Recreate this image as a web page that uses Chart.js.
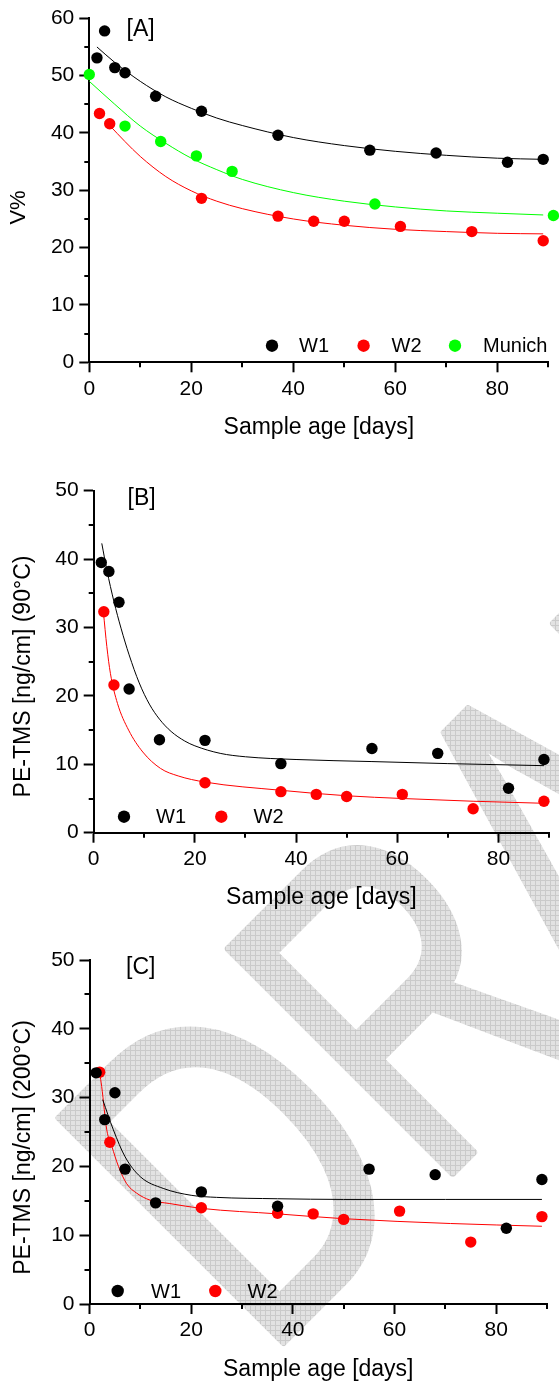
<!DOCTYPE html>
<html lang="en">
<head>
<meta charset="UTF-8">
<title>Sample age</title>
<script src="https://cdn.jsdelivr.net/npm/chart.js@4.4.1/dist/chart.umd.min.js"></script>
<style>
  body { margin: 0; background: #fff; }
  #page { position: relative; width: 559px; height: 1386px; overflow: hidden; }
  #page svg, #page canvas { position: absolute; left: 0; }
</style>
</head>
<body>
<div id="page">
  <svg id="mark" width="559" height="1386" style="top:0">
    <defs>
      <pattern id="hatch" width="5" height="5" patternUnits="userSpaceOnUse">
        <rect width="5" height="5" fill="#e2e2e2"/>
        <path d="M0 0.5H5M0.5 0V5" stroke="#cacaca" stroke-width="1"/>
      </pattern>
      <mask id="draftMask" maskUnits="userSpaceOnUse" x="0" y="0" width="559" height="1386">
        <text x="-31" y="320.5" font-family="Liberation Sans, Arial, sans-serif" font-size="460"
              fill="#fff" stroke="#fff" stroke-width="8" stroke-linejoin="round"
              transform="translate(52.7 1119.3) rotate(-45) scale(0.72 1)">DRAFT</text>
      </mask>
    </defs>
    <rect width="559" height="1386" fill="url(#hatch)" mask="url(#draftMask)"/>
  </svg>
  <canvas id="panelA" width="559" height="441" style="top:0"></canvas>
  <canvas id="panelB" width="559" height="470" style="top:441px"></canvas>
  <canvas id="panelC" width="559" height="475" style="top:911px"></canvas>
</div>

<script>
// ---- [A] V% ----
const a_w1_days = [1.5, 3, 5, 7, 13, 22, 37, 55, 68, 82, 89];
const a_w1_vals = [53.1, 57.8, 51.4, 50.5, 46.4, 43.8, 39.6, 37.0, 36.5, 34.9, 35.4];
const a_w2_days = [2, 4, 22, 37, 44, 50, 61, 75, 89];
const a_w2_vals = [43.4, 41.6, 28.6, 25.5, 24.6, 24.6, 23.7, 22.8, 21.2];
const a_mu_days = [0, 7, 14, 21, 28, 56, 91];
const a_mu_vals = [50.2, 41.2, 38.5, 36.0, 33.3, 27.6, 25.6];

// fitted decay curves
const a_w1_fit_days = [1.5, 5, 10, 15, 20, 25, 30, 40, 50, 60, 70, 80, 89];
const a_w1_fit_vals = [55.0, 52.3, 49.0, 46.3, 44.3, 42.6, 41.3, 39.2, 37.8, 36.8, 36.1, 35.6, 35.4];
const a_w2_fit_days = [4, 7, 10, 15, 20, 25, 30, 40, 50, 60, 70, 80, 89];
const a_w2_fit_vals = [41.3, 38.5, 35.9, 32.4, 29.9, 28.1, 26.8, 25.0, 23.9, 23.2, 22.8, 22.5, 22.4];
const a_mu_fit_days = [0, 5, 10, 15, 20, 25, 30, 40, 50, 60, 70, 80, 89];
const a_mu_fit_vals = [49.0, 45.0, 41.2, 38.2, 35.6, 33.6, 31.9, 29.6, 28.1, 27.1, 26.4, 26.0, 25.7];

// ---- [B] PE-TMS at 90°C ----
const b_w1_days = [1.5, 3, 5, 7, 13, 22, 37, 55, 68, 82, 89];
const b_w1_vals = [39.5, 38.2, 33.7, 21.0, 13.6, 13.5, 10.1, 12.3, 11.6, 6.5, 10.7];
const b_w2_days = [2, 4, 22, 37, 44, 50, 61, 75, 89];
const b_w2_vals = [32.3, 21.6, 7.3, 6.0, 5.6, 5.3, 5.6, 3.5, 4.6];

const b_w1_fit_days = [1.6, 2.6, 4, 5.4, 7, 9, 11, 13, 15.3, 18, 20, 25, 30, 40, 55, 70, 89];
const b_w1_fit_vals = [42.3, 38.4, 33.8, 29.9, 26.0, 21.9, 18.8, 16.6, 14.8, 13.4, 12.7, 11.6, 11.1, 10.7, 10.4, 10.1, 9.8];
const b_w2_fit_days = [1.9, 2.6, 3.3, 4.7, 6.9, 9.7, 13.2, 16.7, 22, 37, 50, 61, 75, 89];
const b_w2_fit_vals = [32.4, 27.2, 23.3, 18.9, 15.0, 11.8, 9.4, 8.3, 7.4, 6.2, 5.4, 5.0, 4.6, 4.3];

// ---- [C] PE-TMS at 200°C ----
const c_w1_days = [1.3, 3, 5, 7, 13, 22, 37, 55, 68, 82, 89];
const c_w1_vals = [33.6, 26.8, 30.7, 19.6, 14.7, 16.3, 14.2, 19.6, 18.8, 11.0, 18.1];
const c_w2_days = [2, 4, 22, 37, 44, 50, 61, 75, 89];
const c_w2_vals = [33.7, 23.5, 14.0, 13.2, 13.1, 12.3, 13.5, 9.0, 12.7];

const c_w1_fit_days = [2.6, 4.7, 7, 10, 14.5, 20, 25, 37, 50, 70, 89];
const c_w1_fit_vals = [29.7, 25.3, 21.4, 18.5, 16.8, 15.8, 15.5, 15.3, 15.2, 15.2, 15.2];
const c_w2_fit_days = [2, 2.4, 3.4, 4.4, 5.7, 7.3, 9.3, 11.9, 15.8, 22, 37, 50, 71, 89];
const c_w2_fit_vals = [33.6, 31.6, 25.3, 22.9, 20.0, 17.5, 16.1, 15.1, 14.6, 13.9, 13.1, 12.4, 11.7, 11.3];

const ageTitle = 'Sample age [days]';

Chart.defaults.font.family = "'Liberation Sans', Arial, sans-serif";
Chart.defaults.color = '#000';

function pts(xs, ys) {
    return xs.map((x, i) => ({ x: x, y: ys[i] }));
}

function dots(label, xs, ys, color) {
    return {
        label: label, data: pts(xs, ys), showLine: false,
        pointRadius: 5.7, pointHoverRadius: 5.7, pointBorderWidth: 0,
        pointBackgroundColor: color, borderColor: color, clip: false
    };
}

function fit(label, xs, ys, color) {
    return {
        label: label, data: pts(xs, ys), showLine: true, pointRadius: 0,
        borderColor: color, borderWidth: 1, cubicInterpolationMode: 'monotone', fill: false
    };
}

// short minor ticks, panel tag, rotated y title and the inline legend
const decor = {
    id: 'decor',
    afterDraw(chart, args, o) {
        const { ctx, chartArea, scales } = chart;
        ctx.save();
        ctx.strokeStyle = '#000';
        ctx.lineWidth = 2;
        scales.x.ticks.forEach(t => {
            if (t.value % o.xMajor === 0) return;
            const px = Math.round(scales.x.getPixelForValue(t.value));
            ctx.beginPath();
            ctx.moveTo(px, chartArea.bottom);
            ctx.lineTo(px, chartArea.bottom + 5);
            ctx.stroke();
        });
        scales.y.ticks.forEach(t => {
            if (t.value % o.yMajor === 0) return;
            const py = Math.round(scales.y.getPixelForValue(t.value));
            ctx.beginPath();
            ctx.moveTo(chartArea.left, py);
            ctx.lineTo(chartArea.left - 5, py);
            ctx.stroke();
        });

        ctx.fillStyle = '#000';
        ctx.textBaseline = 'alphabetic';
        ctx.textAlign = 'left';
        ctx.font = "23px 'Liberation Sans', Arial, sans-serif";
        ctx.fillText(o.tag, o.tagX, o.tagY);

        ctx.save();
        ctx.translate(o.yTitleX, o.yTitleY);
        ctx.rotate(-Math.PI / 2);
        ctx.textAlign = 'center';
        ctx.font = o.yTitleSize + "px 'Liberation Sans', Arial, sans-serif";
        ctx.fillText(o.yTitle, 0, 0);
        ctx.restore();

        ctx.font = "20px 'Liberation Sans', Arial, sans-serif";
        ctx.textBaseline = 'middle';
        o.legend.forEach(item => {
            const ds = chart.data.datasets[item.ds];
            ctx.fillStyle = ds.pointBackgroundColor;
            ctx.beginPath();
            ctx.arc(item.dot, o.legendY, 6.2, 0, Math.PI * 2);
            ctx.fill();
            ctx.fillStyle = '#000';
            ctx.fillText(ds.label, item.text, o.legendY + 1);
        });
        ctx.restore();
    }
};

function makePanel(id, datasets, p) {
    new Chart(document.getElementById(id), {
        type: 'scatter',
        data: { datasets: datasets },
        options: {
            responsive: false,
            devicePixelRatio: 1,
            animation: false,
            events: [],
            layout: { padding: { top: p.top, right: p.right, left: 0, bottom: p.bottom } },
            plugins: {
                legend: { display: false },
                tooltip: { enabled: false },
                decor: p.decor
            },
            scales: {
                x: {
                    type: 'linear', min: 0, max: 90,
                    afterFit: s => { s.height = p.xHeight; },
                    border: { color: '#000', width: 2 },
                    grid: {
                        drawOnChartArea: false, tickLength: 10, tickWidth: 2,
                        tickColor: c => (c.tick && c.tick.value % 20 === 0) ? '#000' : 'rgba(0,0,0,0)'
                    },
                    ticks: {
                        stepSize: 10, autoSkip: false, maxRotation: 0, padding: 4,
                        font: { size: 21 },
                        callback: v => (v % 20 === 0 && v < 90) ? v : ''
                    },
                    title: {
                        display: true, text: ageTitle, font: { size: 23 },
                        padding: { top: 0, bottom: 0 }
                    }
                },
                y: {
                    type: 'linear', min: 0, max: p.yMax,
                    afterFit: s => { s.width = p.yWidth; },
                    border: { color: '#000', width: 2 },
                    grid: {
                        drawOnChartArea: false, tickLength: 10, tickWidth: 2,
                        tickColor: c => (c.tick && c.tick.value % 10 === 0) ? '#000' : 'rgba(0,0,0,0)'
                    },
                    ticks: {
                        stepSize: 5, autoSkip: false, padding: 5,
                        font: { size: 21 },
                        callback: v => (v % 10 === 0) ? v : ''
                    }
                }
            }
        },
        plugins: [decor]
    });
}

makePanel('panelA', [
    dots('W1', a_w1_days, a_w1_vals, '#000000'),
    dots('W2', a_w2_days, a_w2_vals, '#ff0000'),
    dots('Munich', a_mu_days, a_mu_vals, '#00ff00'),
    fit('W1 fit', a_w1_fit_days, a_w1_fit_vals, '#000000'),
    fit('W2 fit', a_w2_fit_days, a_w2_fit_vals, '#ff0000'),
    fit('Munich fit', a_mu_fit_days, a_mu_fit_vals, '#00ff00')
], {
    top: 18.3, right: 10.7, bottom: 0, xHeight: 78.7, yWidth: 89.3, yMax: 60,
    decor: {
        xMajor: 20, yMajor: 10,
        tag: '[A]', tagX: 126.5, tagY: 36,
        yTitle: 'V%', yTitleX: 25, yTitleY: 207.5, yTitleSize: 22,
        legendY: 345.7,
        legend: [{ ds: 0, dot: 272, text: 299 }, { ds: 1, dot: 363.6, text: 391.5 }, { ds: 2, dot: 455, text: 483 }]
    }
});

makePanel('panelB', [
    dots('W1', b_w1_days, b_w1_vals, '#000000'),
    dots('W2', b_w2_days, b_w2_vals, '#ff0000'),
    fit('W1 fit', b_w1_fit_days, b_w1_fit_vals, '#000000'),
    fit('W2 fit', b_w2_fit_days, b_w2_fit_vals, '#ff0000')
], {
    top: 49.7, right: 10, bottom: 0, xHeight: 78.3, yWidth: 93.7, yMax: 50,
    decor: {
        xMajor: 20, yMajor: 10,
        tag: '[B]', tagX: 127.5, tagY: 64.2,
        yTitle: 'PE-TMS [ng/cm] (90°C)', yTitleX: 30, yTitleY: 235.5, yTitleSize: 23,
        legendY: 375.7,
        legend: [{ ds: 0, dot: 124, text: 156 }, { ds: 1, dot: 221.3, text: 253.5 }]
    }
});

makePanel('panelC', [
    dots('W1', c_w1_days, c_w1_vals, '#000000'),
    dots('W2', c_w2_days, c_w2_vals, '#ff0000'),
    fit('W1 fit', c_w1_fit_days, c_w1_fit_vals, '#000000'),
    fit('W2 fit', c_w2_fit_days, c_w2_fit_vals, '#ff0000')
], {
    top: 49, right: 12, bottom: 3, xHeight: 79, yWidth: 89.5, yMax: 50,
    decor: {
        xMajor: 20, yMajor: 10,
        tag: '[C]', tagX: 126, tagY: 63.2,
        yTitle: 'PE-TMS [ng/cm] (200°C)', yTitleX: 30, yTitleY: 236.5, yTitleSize: 23,
        legendY: 380,
        legend: [{ ds: 0, dot: 117.7, text: 151 }, { ds: 1, dot: 215.3, text: 247.5 }]
    }
});
</script>
</body>
</html>
